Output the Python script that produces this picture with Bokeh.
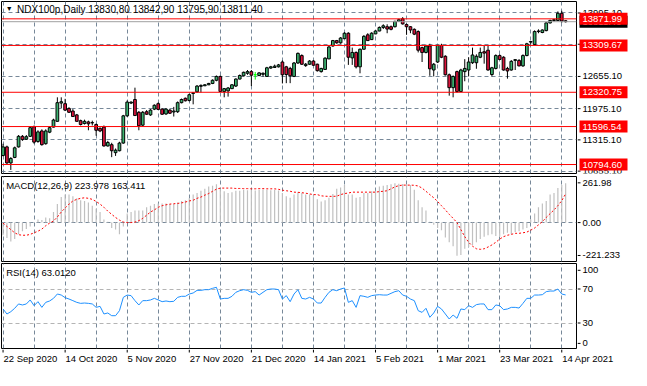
from bokeh.plotting import figure
from bokeh.layouts import column, row
from bokeh.models import Range1d, FixedTicker, Span, Label, ColumnDataSource
from bokeh.core.properties import value
from bokeh.embed import file_html
from bokeh.resources import INLINE

# ---------------- data ----------------
symbol_text = "NDX100p,Daily  13830,80 13842,90 13795,90 13811.40"
date_bars = [0, 16, 32, 48, 64, 80, 96, 112, 128, 144]
date_labels = ["22 Sep 2020", "14 Oct 2020", "5 Nov 2020", "27 Nov 2020", "21 Dec 2020",
               "14 Jan 2021", "5 Feb 2021", "1 Mar 2021", "23 Mar 2021", "14 Apr 2021"]
price_ticks = [13995.10, 13335.10, 12655.10, 11975.10, 11315.10, 10655.10]
levels = [13871.99, 13309.67, 12320.75, 11596.54, 10794.60]
last_price = 13811.40

opens = [
    10984, 11167, 10828, 10944, 11167, 11390, 11329, 11390, 11593, 11281,
    11504, 11234, 11478, 11585, 11707, 12093, 12080, 11979, 11924, 11843,
    11721, 11660, 11695, 11675, 11640, 11559, 11585, 11187, 11214, 11045,
    11086, 11248, 11823, 12093, 12168, 11898, 11626, 11910, 11843, 11965,
    12080, 11965, 11863, 11944, 11904, 11910, 12101, 12194, 12148, 12296,
    12330, 12446, 12458, 12478, 12507, 12574, 12655, 12336, 12350, 12397,
    12452, 12600, 12669, 12722, 12757, 12690, 12675, 12700, 12655, 12832,
    12844, 12858, 12960, 12858, 12824, 12655, 12939, 13096, 12884, 12913,
    12980, 12913, 12757, 12803, 13026, 13298, 13412, 13365, 13453, 13568,
    13047, 13162, 12858, 13230, 13534, 13433, 13554, 13615, 13690, 13705,
    13705, 13705, 13818, 13873, 13751, 13705, 13650, 13603, 13264, 13162,
    13298, 12791, 12960, 13311, 13081, 12690, 12418, 12757, 12336, 12757,
    12791, 12945, 12945, 13061, 13177, 13209, 12696, 12824, 13096, 13061,
    12824, 12791, 12994, 12994, 12878, 13096, 13380, 13331, 13603, 13583,
    13623, 13786, 13838, 13838, 13989, 13830.8]
highs = [
    11234, 11193, 10950, 11173, 11417, 11417, 11417, 11599, 11620, 11518,
    11538, 11538, 11599, 11762, 12214, 12214, 12182, 12005, 11965, 11863,
    11742, 11742, 11721, 11721, 11660, 11579, 11620, 11295, 11254, 11133,
    11275, 11843, 12148, 12127, 12418, 11924, 11924, 11944, 11965, 12066,
    12107, 11985, 11985, 11965, 12012, 12127, 12188, 12208, 12290, 12316,
    12472, 12487, 12493, 12519, 12594, 12675, 12675, 12411, 12432, 12493,
    12614, 12696, 12757, 12791, 12791, 12750, 12745, 12740, 12858, 12878,
    12905, 12919, 12994, 12878, 12858, 12960, 13162, 13122, 12939, 13000,
    13000, 12925, 12838, 13061, 13305, 13426, 13426, 13487, 13589, 13589,
    13264, 13183, 13244, 13528, 13568, 13589, 13629, 13711, 13757, 13757,
    13731, 13832, 13873, 13908, 13772, 13717, 13670, 13629, 13284, 13325,
    13345, 12939, 13325, 13345, 13102, 12716, 12675, 12777, 12817, 13020,
    13061, 13264, 13122, 13264, 13298, 13298, 12858, 13122, 13122, 13081,
    12858, 13000, 13014, 13020, 13122, 13365, 13400, 13629, 13650, 13650,
    13792, 13853, 13873, 14029, 14042, 13842.9]
lows = [
    10970, 10808, 10680, 10930, 11153, 11295, 11315, 11376, 11234, 11254,
    11193, 11214, 11457, 11579, 11701, 11985, 11924, 11884, 11802, 11701,
    11620, 11640, 11518, 11620, 11403, 11478, 11173, 11173, 10950, 10976,
    11072, 11234, 11802, 12072, 11823, 11518, 11599, 11843, 11823, 11944,
    11944, 11843, 11843, 11863, 11808, 11884, 12087, 12127, 12127, 12066,
    12310, 12316, 12452, 12472, 12493, 12553, 12330, 12214, 12229, 12391,
    12432, 12594, 12655, 12690, 12452, 12588, 12660, 12650, 12649, 12817,
    12838, 12844, 12507, 12513, 12513, 12641, 12919, 12899, 12858, 12899,
    12878, 12757, 12736, 12797, 13020, 13284, 13345, 13345, 13447, 12899,
    12899, 12824, 12722, 13223, 13406, 13426, 13548, 13609, 13656, 13568,
    13629, 13690, 13812, 13751, 13534, 13568, 13528, 13162, 12960, 13142,
    12669, 12655, 12939, 13041, 12675, 12249, 12214, 12316, 12330, 12553,
    12655, 12919, 12817, 13041, 12925, 12777, 12655, 12803, 13000, 12777,
    12608, 12777, 12791, 12868, 12858, 13081, 13331, 13325, 13568, 13568,
    13609, 13772, 13812, 13832, 13792, 13795.9]
closes = [
    11167, 10828, 10923, 11147, 11390, 11321, 11382, 11573, 11268, 11484,
    11214, 11504, 11573, 11735, 12101, 12121, 11944, 11898, 11808, 11707,
    11640, 11707, 11654, 11680, 11518, 11504, 11187, 11260, 11086, 11098,
    11248, 11823, 12113, 12113, 11829, 11614, 11898, 11857, 11944, 12046,
    11959, 11857, 11965, 11878, 11924, 12101, 12168, 12141, 12269, 12310,
    12452, 12466, 12478, 12507, 12574, 12655, 12336, 12397, 12411, 12478,
    12600, 12675, 12742, 12757, 12681, 12690, 12730, 12722, 12838, 12858,
    12872, 12899, 12690, 12696, 12669, 12939, 13142, 12913, 12913, 12980,
    12892, 12777, 12824, 13041, 13278, 13412, 13365, 13467, 13568, 13061,
    13162, 12858, 13230, 13502, 13412, 13568, 13615, 13690, 13725, 13656,
    13650, 13818, 13853, 13765, 13705, 13636, 13548, 13209, 13162, 13298,
    12817, 12913, 13311, 13061, 12690, 12418, 12655, 12336, 12791, 12824,
    12960, 13108, 13081, 13162, 13148, 12791, 12838, 13096, 13014, 12791,
    12771, 12974, 13010, 12878, 13096, 13345, 13392, 13603, 13615, 13636,
    13786, 13838, 13853, 13989, 13826, 13811.4]

macd_main = [
    -72, -88, -107, -94, -67, -49, -37, -22, -3, 18,
    14, 29, 24, 60, 105, 145, 159, 159, 150, 138,
    127, 123, 114, 96, 78, 60, 18, 5, -31, -40,
    -67, -22, 51, 60, 69, 69, 69, 87, 96, 105,
    109, 109, 109, 105, 105, 114, 123, 127, 138, 159,
    168, 181, 192, 205, 210, 218, 192, 178, 168, 173,
    181, 181, 186, 184, 186, 183, 186, 188, 186, 184,
    186, 183, 168, 150, 141, 159, 173, 168, 159, 159,
    155, 132, 120, 127, 141, 163, 192, 199, 213, 159,
    159, 141, 145, 168, 168, 178, 181, 205, 210, 213,
    218, 223, 221, 220, 218, 213, 186, 127, 87, 69,
    5, -13, -31, -43, -85, -112, -134, -188, -184, -149,
    -139, -127, -112, -94, -80, -72, -67, -76, -80, -67,
    -58, -67, -54, -49, -40, -31, 18, 51, 87, 109,
    123, 159, 168, 196, 213, 223.978]
macd_signal = [
    -3, -22, -40, -58, -69, -72, -72, -67, -58, -49,
    -37, -18, -3, 9, 32, 60, 83, 105, 123, 132,
    138, 141, 138, 132, 120, 105, 87, 65, 47, 29,
    14, 3, 0, 0, 3, 11, 24, 42, 60, 72,
    87, 96, 101, 105, 107, 109, 112, 117, 123, 127,
    138, 145, 156, 165, 178, 190, 196, 196, 196, 196,
    194, 194, 193, 193, 192, 192, 193, 193, 192, 192,
    192, 189, 184, 181, 178, 173, 172, 170, 167, 163,
    159, 159, 152, 150, 149, 149, 150, 159, 165, 168,
    173, 173, 173, 173, 173, 173, 173, 176, 178, 181,
    192, 203, 210, 213, 213, 213, 212, 208, 196, 178,
    159, 141, 120, 96, 72, 47, 24, 0, -40, -80,
    -112, -134, -149, -152, -149, -139, -127, -112, -94, -80,
    -72, -67, -61, -61, -58, -54, -43, -31, -13, 5,
    29, 51, 72, 96, 125, 163.411]
macd_min, macd_max = -221.233, 261.98
macd_tick_values = [226, 0, -187]
macd_tick_text = ["261.98", "0.00", "-221.233"]
macd_title = "MACD(12,26,9) 223.978 163.411"

rsi = [
    46.5, 40.6, 43.3, 47.3, 52.4, 51.2, 52.4, 57.1, 50.4, 55.1,
    48.4, 54.3, 55.9, 59.0, 64.1, 62.9, 59.8, 58.2, 56.3, 54.3,
    53.1, 53.5, 53.1, 52.4, 48.4, 49.6, 40.6, 41.8, 38.6, 38.6,
    44.5, 60.2, 62.9, 62.2, 56.3, 51.2, 56.3, 56.3, 57.1, 59.0,
    57.1, 55.1, 55.9, 55.1, 55.5, 60.2, 61.4, 61.4, 64.1, 65.3,
    68.4, 68.4, 69.2, 69.2, 70.8, 72.0, 58.2, 59.0, 59.0, 61.4,
    66.1, 68.0, 69.2, 68.4, 66.1, 66.9, 62.9, 66.1, 69.2, 70.0,
    70.0, 69.2, 58.2, 62.2, 55.1, 64.1, 69.2, 59.0, 58.2, 60.2,
    58.2, 53.5, 53.5, 60.2, 66.1, 69.2, 68.0, 70.0, 71.2, 54.3,
    56.3, 48.4, 62.2, 61.4, 60.2, 62.2, 62.9, 63.3, 62.9, 62.9,
    64.9, 66.9, 68.0, 62.9, 61.4, 58.2, 56.3, 44.5, 42.5, 47.3,
    36.7, 41.8, 49.6, 46.5, 40.6, 34.7, 39.4, 35.5, 46.5, 45.7,
    50.4, 48.4, 51.6, 52.4, 52.4, 45.7, 45.7, 51.2, 50.4, 45.7,
    46.5, 48.4, 48.4, 47.6, 53.1, 59.0, 59.0, 62.9, 62.9, 63.3,
    66.9, 67.6, 67.6, 70.0, 64.1, 63.012]
rsi_levels = [70, 30]
rsi_tick_values = [92, 70, 30, 6]
rsi_tick_text = ["100", "70", "30", "0"]
rsi_title = "RSI(14) 63.0120"

# ---------------- layout / styling ----------------
FONT = "Liberation Sans"
FS = "9.5px"
TOTAL_W = 631
MAIN_W = 577          # 1px left border + 575px frame + 1px right border
FRAME_W = 575
SIDE_W = TOTAL_W - MAIN_W
GRID = "#778899"
X0, X1 = -0.4, 147.8
BAR_PX = FRAME_W / (X1 - X0)
x_range = Range1d(X0, X1)
grid_bars = list(range(0, 148, 8))
bars = list(range(len(closes)))

MAIN_H, MAIN_FH = 175, 172
SUB_H, SUB_FH = 87, 85
DATE_H = 19


def make_fig(height, y_range, top, bottom):
    p = figure(width=MAIN_W, height=height, x_range=x_range, y_range=y_range,
               x_axis_location=None, y_axis_location=None,
               output_backend="svg", toolbar_location=None,
               min_border_left=1, min_border_right=1,
               min_border_top=top, min_border_bottom=bottom)
    p.outline_line_color = "black"
    p.outline_line_width = 1
    p.outline_line_alpha = 1
    p.background_fill_color = "white"
    p.border_fill_color = "white"
    p.xgrid.ticker = FixedTicker(ticks=grid_bars)
    p.xgrid.grid_line_color = GRID
    p.xgrid.grid_line_dash = "4 3"
    p.ygrid.grid_line_color = GRID
    p.ygrid.grid_line_dash = "4 3"
    return p


def make_side(height, y_range, top, bottom, ticks, texts):
    s = figure(width=SIDE_W, height=height, x_range=Range1d(0, SIDE_W), y_range=y_range,
               x_axis_location=None, y_axis_location=None,
               output_backend="svg", toolbar_location=None,
               min_border_left=0, min_border_right=0,
               min_border_top=top, min_border_bottom=bottom)
    s.outline_line_color = None
    s.xgrid.visible = False
    s.ygrid.visible = False
    s.background_fill_color = "white"
    s.border_fill_color = "white"
    s.segment(x0=[0] * len(ticks), y0=ticks, x1=[3] * len(ticks), y1=ticks,
              line_color="black", line_width=1)
    s.text(x=[5] * len(ticks), y=ticks, text=texts, text_font=value(FONT),
           text_font_size=value(FS), text_color="black",
           text_baseline="middle", text_align="left")
    return s


def txt(p, x, y, text, color="black", size=FS):
    p.add_layout(Label(x=x, y=y, text=text, text_font=FONT, text_font_size=size,
                       text_color=color, text_align="left", text_baseline="middle"))


def price_box(s, y_range, frame_h, price, color):
    half = 6.0 * (y_range.end - y_range.start) / frame_h
    s.quad(left=[2], right=[50], top=[price + half], bottom=[price - half],
           fill_color=color, line_color=None)
    s.text(x=[5], y=[price], text=[f"{price:.2f}"], text_font=value(FONT),
           text_font_size=value(FS), text_color="white",
           text_baseline="middle", text_align="left")


# ---------------- main price panel ----------------
yr1 = Range1d(10605, 14238)
p1 = make_fig(MAIN_H, yr1, 1, 2)
p1.ygrid.ticker = FixedTicker(ticks=price_ticks)

body_fill, body_line, wick = [], [], []
for o, c in zip(opens, closes):
    if c > o:
        body_fill.append("#3CB371"); body_line.append("black"); wick.append("black")
    elif c < o:
        body_fill.append("#DC143C"); body_line.append("black"); wick.append("black")
    else:
        body_fill.append("#00FF00"); body_line.append("#00FF00"); wick.append("#00FF00")
src = ColumnDataSource(dict(
    x=bars, h=highs, l=lows,
    top=[max(o, c) for o, c in zip(opens, closes)],
    bottom=[min(o, c) for o, c in zip(opens, closes)],
    fill=body_fill, line=body_line, wick=wick))
p1.segment(x0="x", y0="l", x1="x", y1="h", line_color="wick", line_width=1, source=src)
p1.vbar(x="x", width=0.7, top="top", bottom="bottom", fill_color="fill",
        line_color="line", line_width=1, source=src)

p1.add_layout(Span(location=last_price, dimension="width", line_color="#a0a0a0", line_width=1))
for lv in levels:
    p1.add_layout(Span(location=lv, dimension="width", line_color="red", line_width=1))

txt(p1, 0.7, 14092, "\u25BC", size="7px")
txt(p1, 3.6, 14076, symbol_text, size="10px")

s1 = make_side(MAIN_H, yr1, 1, 2, price_ticks, [f"{t:.2f}" for t in price_ticks])
price_box(s1, yr1, MAIN_FH, last_price, "black")
for lv in levels:
    price_box(s1, yr1, MAIN_FH, lv, "red")

# ---------------- MACD panel ----------------
yr2 = Range1d(macd_min, macd_max)
p2 = make_fig(SUB_H, yr2, 1, 1)
p2.ygrid.ticker = FixedTicker(ticks=[0])
p2.segment(x0=bars, y0=[0] * len(bars), x1=bars, y1=macd_main, line_color="#c0c0c0", line_width=1.2)
p2.line(bars, macd_signal, line_color="red", line_width=1, line_dash="2 2")
txt(p2, 0.8, 213, macd_title)
s2 = make_side(SUB_H, yr2, 1, 1, macd_tick_values, macd_tick_text)

# ---------------- RSI panel ----------------
yr3 = Range1d(0, 100)
p3 = make_fig(SUB_H, yr3, 1, 1)
p3.ygrid.ticker = FixedTicker(ticks=rsi_levels)
p3.ygrid.grid_line_color = "#b4b4b4"
p3.line(bars, rsi, line_color="#1E90FF", line_width=1)
txt(p3, 0.8, 90, rsi_title)
s3 = make_side(SUB_H, yr3, 1, 1, rsi_tick_values, rsi_tick_text)

# ---------------- date strip ----------------
p4 = figure(width=TOTAL_W, height=DATE_H, x_range=Range1d(X0, X0 + (TOTAL_W - 1) / BAR_PX),
            y_range=Range1d(0, DATE_H), x_axis_location=None, y_axis_location=None,
            output_backend="svg", toolbar_location=None,
            min_border_left=1, min_border_right=0, min_border_top=0, min_border_bottom=0)
p4.outline_line_color = None
p4.xgrid.visible = False
p4.ygrid.visible = False
p4.segment(x0=date_bars, y0=[DATE_H] * len(date_bars), x1=date_bars, y1=[DATE_H - 3] * len(date_bars),
           line_color="black", line_width=1)
p4.text(x=[b + 0.1 for b in date_bars], y=[DATE_H - 9] * len(date_bars), text=date_labels,
        text_font=value(FONT), text_font_size=value(FS), text_color="black",
        text_baseline="middle", text_align="left")

layout = column(row(p1, s1), row(p2, s2), row(p3, s3), p4)
open("out.html", "w").write(file_html(layout, INLINE))
